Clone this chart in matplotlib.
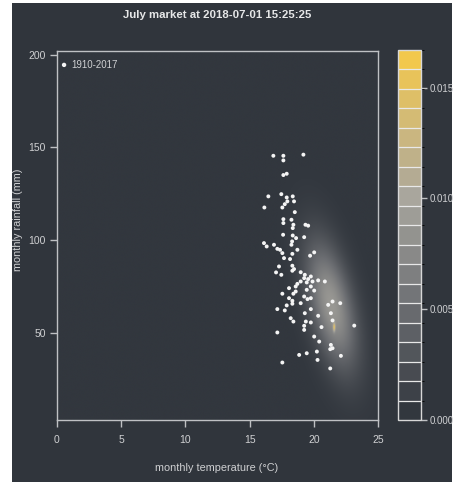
import numpy as np
import matplotlib
matplotlib.use("Agg")
import matplotlib.pyplot as plt
from matplotlib.colors import LinearSegmentedColormap, BoundaryNorm, Normalize
from matplotlib.patches import Rectangle
import matplotlib.cm as cm

plt.rcParams['font.family'] = ['Liberation Sans', 'DejaVu Sans']

# July observations 1910-2017: mean temperature (°C) and total rainfall (mm)
temperature = [
    16.85, 17.63, 17.63, 19.19, 17.63, 17.89, 16.46, 17.47, 17.89, 18.36,
    17.94, 18.46, 17.74, 17.55, 16.15, 18.52, 17.63, 17.63, 18.26, 18.41,
    19.35, 19.56, 18.36, 17.61, 18.36, 18.62, 19.25, 18.31, 18.26, 16.12,
    16.33, 16.90, 17.16, 17.37, 17.55, 17.68, 18.72, 18.33, 20.03, 19.71,
    18.15, 17.29, 18.33, 18.46, 18.33, 17.06, 17.47, 18.98, 19.30, 19.25,
    19.56, 19.77, 18.98, 19.45, 19.90, 20.34, 20.86, 18.72, 18.59, 19.77,
    20.03, 19.45, 18.07, 17.55, 18.59, 18.41, 19.25, 19.77, 18.07, 18.33,
    18.33, 17.89, 18.98, 19.51, 17.16, 17.74, 19.77, 19.30, 20.34, 21.12,
    21.46, 22.06, 19.38, 18.20, 18.41, 19.77, 20.60, 21.33, 21.46, 19.25,
    19.25, 17.16, 20.03, 20.42, 21.33, 21.46, 21.28, 22.11, 20.24, 19.45,
    18.86, 20.29, 17.55, 21.28, 23.15,
]
rainfall = [
    145.5, 145.5, 143.0, 146.1, 135.1, 135.8, 123.6, 124.8, 123.0, 123.6,
    120.9, 120.9, 119.4, 117.6, 117.6, 115.1, 111.3, 109.2, 111.0, 108.3,
    108.3, 107.8, 106.5, 102.9, 102.5, 101.1, 101.6, 99.3, 97.5, 98.4,
    96.6, 97.5, 95.3, 94.8, 93.0, 90.3, 94.8, 92.6, 93.4, 91.6,
    89.8, 85.8, 86.2, 84.4, 83.5, 82.6, 81.3, 82.7, 81.3, 79.5,
    79.0, 80.4, 77.7, 77.2, 77.7, 78.3, 77.7, 76.4, 75.0, 75.0,
    72.8, 73.2, 74.1, 71.1, 72.3, 71.1, 69.6, 68.7, 68.7, 67.3,
    65.7, 64.8, 66.0, 68.2, 62.8, 62.1, 62.8, 60.6, 59.2, 65.1,
    66.9, 66.0, 56.1, 57.9, 56.1, 55.6, 53.1, 60.6, 56.7, 53.8,
    51.6, 50.2, 48.0, 45.3, 43.5, 41.7, 41.2, 37.6, 39.9, 39.0,
    38.1, 35.4, 34.0, 30.8, 53.9,
]
legend_label = "1910-2017"

# Forecast density surface: a broad elliptical component plus a sharp mode,
# each given by its centre, spreads, correlation and peak height
broad = dict(mx=21.4, my=65.0, sx=1.35, sy=23.5, rho=-0.5, peak=0.0088)
mode = dict(mx=21.6, my=53.0, sx=0.06, sy=1.6, rho=0.0, peak=0.0080)
density_max = 0.0167
n_bins = 19
cbar_ticks = [0.0, 0.005, 0.010, 0.015]
x_ticks = [0, 5, 10, 15, 20, 25]
y_ticks = [50, 100, 150, 200]

BG = "#30353c"
FG = "#cfd0d2"
LINE = "#bfc1c4"


def bump(T, R, mx, my, sx, sy, rho, peak):
    dx = (T - mx) / sx
    dy = (R - my) / sy
    q = (dx ** 2 - 2 * rho * dx * dy + dy ** 2) / (2 * (1 - rho ** 2))
    return peak * np.exp(-q)


W, H = 456, 482
fig = plt.figure(figsize=(W / 100, H / 100), dpi=100, facecolor="white")
fig.patches.append(Rectangle((12 / W, 0), (452 - 12) / W, (H - 3) / H,
                             transform=fig.transFigure, facecolor=BG,
                             edgecolor="none", zorder=-10))

cmap = LinearSegmentedColormap.from_list(
    "rain_temp",
    [(0.0, "#32373e"), (0.3, "#6d6f73"), (0.6, "#a7a59e"),
     (0.8, "#cfb87c"), (1.0, "#f2c84c")])

ax = fig.add_axes([57 / W, (H - 420) / H, (378 - 57) / W, (420 - 51) / H])
ax.set_facecolor(BG)
xlim = (0, 25)
ylim = (3, 202)
ax.set_xlim(*xlim)
ax.set_ylim(*ylim)

tg = np.linspace(xlim[0], xlim[1], 600)
rg = np.linspace(ylim[0], ylim[1], 800)
TT, RR = np.meshgrid(tg, rg)
dens = bump(TT, RR, **broad) + bump(TT, RR, **mode)
ax.imshow(dens, extent=(xlim[0], xlim[1], ylim[0], ylim[1]), origin="lower",
          cmap=cmap, norm=Normalize(0, density_max), aspect="auto",
          interpolation="bilinear", zorder=1)

ax.scatter(temperature, rainfall, s=8, color="#f4f4f4", edgecolors="none",
           zorder=3)

# legend entry in the top-left corner
ax.scatter([0.55], [194.5], s=10, color="#f4f4f4", edgecolors="none", zorder=3)
ax.text(1.15, 194.5, legend_label, color=FG, fontsize=7, va="center",
        ha="left", zorder=3)

for sp in ax.spines.values():
    sp.set_color(LINE)
    sp.set_linewidth(1.0)

ax.set_xticks(x_ticks)
ax.set_yticks(y_ticks)
ax.set_xticklabels([str(v) for v in x_ticks])
ax.set_yticklabels([str(v) for v in y_ticks])
ax.tick_params(colors=LINE, labelcolor=FG, labelsize=7.5, length=5, width=1.0,
               pad=3)
ax.tick_params(axis="x", pad=6)

fig.text(217 / W, 1 - 15 / H, "July market at 2018-07-01 15:25:25",
         ha="center", va="center", color="#e6e7e8", fontsize=8.2,
         fontweight="bold")
fig.text(217 / W, 1 - 468 / H, "monthly temperature (°C)", ha="center",
         va="center", color=FG, fontsize=7.8)
fig.text(18 / W, 1 - 220 / H, "monthly rainfall (mm)", ha="center",
         va="center", color=FG, fontsize=7.8, rotation=90)

# colour key with discrete bins
cax = fig.add_axes([398 / W, (H - 420) / H, 23 / W, 370 / H])
levels = np.linspace(0, density_max, n_bins + 1)
sm = cm.ScalarMappable(norm=BoundaryNorm(levels, 256), cmap=cmap)
cb = fig.colorbar(sm, cax=cax, boundaries=levels, ticks=cbar_ticks,
                  drawedges=True)
cb.dividers.set_color("#e8e8e8")
cb.dividers.set_linewidth(0.9)
cb.outline.set_edgecolor("#d8d8d8")
cb.outline.set_linewidth(1.0)
cb.ax.set_yticklabels([f"{v:.3f}" for v in cbar_ticks])
cb.ax.tick_params(colors=LINE, labelcolor=FG, labelsize=7, length=4,
                  width=1.0, pad=2)

fig.savefig("out.png", dpi=100, facecolor="white")
